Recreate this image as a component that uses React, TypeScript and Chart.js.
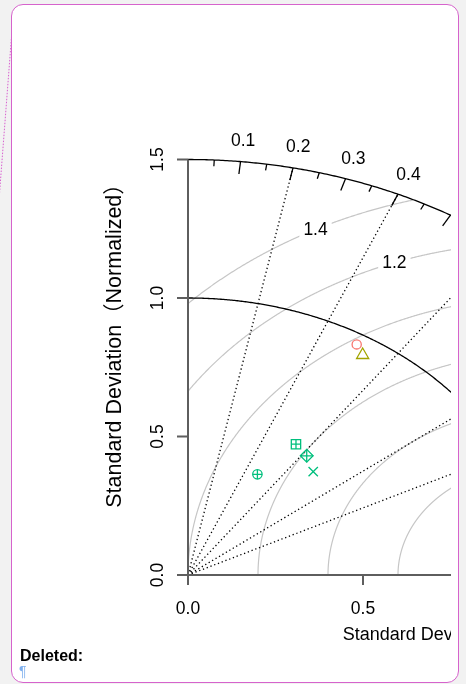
import React, { useEffect, useRef } from "react";
import { Chart, registerables } from "chart.js";

Chart.register(...registerables);

const FONT = '"Liberation Sans", Arial, "Noto Sans CJK SC", sans-serif';

// Models: normalized standard deviation and correlation with the reference
const modelNames = ["Model 1", "Model 2", "Model 3", "Model 4", "Model 5", "Model 6"];
const modelSd = [0.962, 0.938, 0.564, 0.548, 0.517, 0.414];
const modelCorr = [0.501, 0.532, 0.547, 0.619, 0.692, 0.479];
const modelColors = ["#F8766D", "#A3A500", "#00BF7D", "#00BF7D", "#00BF7D", "#00BF7D"];
const modelSymbols = ["circle", "triangle", "squarePlus", "diamondPlus", "cross", "circlePlus"];

// Diagram frame
const maxSd = 1.5;
const refSd = 1.0;
const sdTicks = [0, 0.5, 1.0, 1.5];
const sdTickLabels = ["0.0", "0.5", "1.0", "1.5"];
const corrMajorTicks = [0.1, 0.2, 0.3, 0.4, 0.5, 0.6, 0.7, 0.8, 0.9];
const corrMajorLabels = ["0.1", "0.2", "0.3", "0.4", "0.5", "0.6", "0.7", "0.8", "0.9"];
const corrMinorTicks = [0.05, 0.15, 0.25, 0.35, 0.45, 0.55, 0.65, 0.75, 0.85, 0.95];
const corrLines = [0.2, 0.4, 0.6, 0.8, 0.9];
const rmsRadii = [0.2, 0.4, 0.6, 0.8, 1.0, 1.2, 1.4];
const rmsLabelRadii = [1.2, 1.4];
const rmsLabels = ["1.2", "1.4"];
const rmsLabelAngles = [110, 117]; // degrees around the reference point
const axisTitle = "Standard Deviation（Normalized）";

// Marker parts (Chart.js point styles layered on the same point)
const symbolParts: Record<string, { style: string; radius: number }[]> = {
  circle: [{ style: "circle", radius: 4.6 }],
  triangle: [{ style: "triangle", radius: 7 }],
  squarePlus: [{ style: "rect", radius: 6.6 }, { style: "cross", radius: 4.7 }],
  diamondPlus: [{ style: "rectRot", radius: 6.4 }, { style: "cross", radius: 6.4 }],
  cross: [{ style: "crossRot", radius: 6.6 }],
  circlePlus: [{ style: "circle", radius: 4.7 }, { style: "cross", radius: 4.7 }],
};

const CANVAS_W = 800;
const CANVAS_H = 684;
const X_UNIT = 350; // px per unit of standard deviation, horizontal
const Y_UNIT = 277; // px per unit, vertical
const ORIGIN_X = 188;
const ORIGIN_Y = 575;
const AXIS_MAX = maxSd * 1.1;

const taylorFrame = {
  id: "taylorFrame",
  beforeDatasetsDraw(chart: any) {
    const { ctx } = chart;
    const xs = chart.scales.x;
    const ys = chart.scales.y;
    const px = (v: number) => xs.getPixelForValue(v);
    const py = (v: number) => ys.getPixelForValue(v);
    const polar = (r: number, c: number): [number, number] => [px(r * c), py(r * Math.sqrt(1 - c * c))];

    ctx.save();

    // RMS difference circles around the reference point
    ctx.strokeStyle = "#c6c6c6";
    ctx.lineWidth = 1.2;
    for (const g of rmsRadii) {
      ctx.beginPath();
      let pen = false;
      const n = 1600;
      for (let k = 0; k <= n; k++) {
        const a = (Math.PI * k) / n;
        const x = refSd + g * Math.cos(a);
        const y = g * Math.sin(a);
        const inside = x >= 0 && x * x + y * y <= maxSd * maxSd;
        if (!inside) {
          pen = false;
          continue;
        }
        if (!pen) ctx.moveTo(px(x), py(y));
        else ctx.lineTo(px(x), py(y));
        pen = true;
      }
      ctx.stroke();
    }

    // RMS labels
    ctx.font = `17.5px ${FONT}`;
    ctx.textAlign = "center";
    ctx.textBaseline = "middle";
    rmsLabelRadii.forEach((g, i) => {
      const a = (rmsLabelAngles[i] * Math.PI) / 180;
      const x = px(refSd + g * Math.cos(a));
      const y = py(g * Math.sin(a));
      const w = ctx.measureText(rmsLabels[i]).width;
      ctx.fillStyle = "#ffffff";
      ctx.fillRect(x - w / 2 - 4, y - 9, w + 8, 18);
      ctx.fillStyle = "#000000";
      ctx.fillText(rmsLabels[i], x, y + 1);
    });

    // Correlation rays
    ctx.strokeStyle = "#000000";
    ctx.lineWidth = 1.3;
    ctx.setLineDash([1.3, 2.7]);
    for (const c of corrLines) {
      const [x1, y1] = polar(maxSd, c);
      ctx.beginPath();
      ctx.moveTo(px(0), py(0));
      ctx.lineTo(x1, y1);
      ctx.stroke();
    }
    ctx.setLineDash([]);

    // Outer arc and reference standard deviation arc
    for (const r of [maxSd, refSd]) {
      ctx.beginPath();
      const n = 400;
      for (let k = 0; k <= n; k++) {
        const a = (Math.PI / 2) * (k / n);
        const x = px(r * Math.sin(a));
        const y = py(r * Math.cos(a));
        if (k === 0) ctx.moveTo(x, y);
        else ctx.lineTo(x, y);
      }
      ctx.stroke();
    }

    // Correlation ticks and labels
    for (const c of corrMajorTicks) {
      const [x0, y0] = polar(maxSd, c);
      const [x1, y1] = polar(maxSd * 0.97, c);
      ctx.beginPath();
      ctx.moveTo(x0, y0);
      ctx.lineTo(x1, y1);
      ctx.stroke();
    }
    for (const c of corrMinorTicks) {
      const [x0, y0] = polar(maxSd, c);
      const [x1, y1] = polar(maxSd * 0.985, c);
      ctx.beginPath();
      ctx.moveTo(x0, y0);
      ctx.lineTo(x1, y1);
      ctx.stroke();
    }
    ctx.fillStyle = "#000000";
    ctx.textAlign = "center";
    ctx.textBaseline = "middle";
    corrMajorTicks.forEach((c, i) => {
      const [x, y] = polar(maxSd * 1.05, c);
      ctx.fillText(corrMajorLabels[i], x, y);
    });

    // Axes
    ctx.strokeStyle = "#5e5e5e";
    ctx.lineWidth = 2;
    ctx.beginPath();
    ctx.moveTo(px(0), py(0));
    ctx.lineTo(px(0), py(maxSd));
    ctx.moveTo(px(0), py(0));
    ctx.lineTo(px(maxSd), py(0));
    for (const t of sdTicks) {
      ctx.moveTo(px(0), py(t));
      ctx.lineTo(px(0) - 11, py(t));
      ctx.moveTo(px(t), py(0));
      ctx.lineTo(px(t), py(0) + 10);
    }
    ctx.stroke();

    ctx.fillStyle = "#000000";
    ctx.font = `17.5px ${FONT}`;
    ctx.textAlign = "center";
    ctx.textBaseline = "alphabetic";
    sdTicks.forEach((t, i) => {
      ctx.fillText(sdTickLabels[i], px(t), py(0) + 39);
      ctx.save();
      ctx.translate(px(0) - 25, py(t));
      ctx.rotate(-Math.PI / 2);
      ctx.fillText(sdTickLabels[i], 0, 0);
      ctx.restore();
    });

    // Axis titles
    ctx.font = `18px ${FONT}`;
    ctx.fillText(axisTitle, px(AXIS_MAX / 2) + 6, py(0) + 65);
    ctx.save();
    ctx.font = `21.5px ${FONT}`;
    ctx.translate(px(0) - 67, py(AXIS_MAX / 2) - 6);
    ctx.rotate(-Math.PI / 2);
    ctx.fillText(axisTitle, 0, 0);
    ctx.restore();

    ctx.restore();
  },
};

function buildDatasets() {
  const sets: any[] = [];
  modelSd.forEach((sd, i) => {
    const c = modelCorr[i];
    const point = { x: sd * c, y: sd * Math.sqrt(1 - c * c) };
    for (const part of symbolParts[modelSymbols[i]]) {
      sets.push({
        label: modelNames[i],
        data: [point],
        pointStyle: part.style,
        pointRadius: part.radius,
        pointBorderColor: modelColors[i],
        pointBackgroundColor: "rgba(0,0,0,0)",
        pointBorderWidth: 1.3,
      });
    }
  });
  return sets;
}

export default function App() {
  const canvasRef = useRef<HTMLCanvasElement>(null);

  useEffect(() => {
    const canvas = canvasRef.current;
    if (!canvas) return;
    const chartRight = ORIGIN_X + AXIS_MAX * X_UNIT;
    const chartTop = ORIGIN_Y - AXIS_MAX * Y_UNIT;
    const chart = new Chart(canvas, {
      type: "scatter",
      data: { datasets: buildDatasets() },
      options: {
        animation: false,
        responsive: false,
        maintainAspectRatio: false,
        events: [],
        layout: {
          padding: {
            left: ORIGIN_X,
            right: CANVAS_W - chartRight,
            top: chartTop,
            bottom: CANVAS_H - ORIGIN_Y,
          },
        },
        scales: {
          x: { type: "linear", min: 0, max: AXIS_MAX, display: false },
          y: { type: "linear", min: 0, max: AXIS_MAX, display: false },
        },
        plugins: {
          legend: { display: false },
          tooltip: { enabled: false },
        },
      },
      plugins: [taylorFrame],
    } as any);
    return () => chart.destroy();
  }, []);

  return (
    <div
      style={{
        position: "fixed",
        left: 0,
        top: 0,
        width: 466,
        height: 684,
        background: "#f2f2f2",
        overflow: "hidden",
      }}
    >
      <svg width={466} height={684} style={{ position: "absolute", left: 0, top: 0 }}>
        <line x1={12.5} y1={24} x2={-1} y2={200} stroke="#d860d0" strokeWidth={1} strokeDasharray="1.5 1.5" />
      </svg>
      <div
        style={{
          position: "absolute",
          left: 11,
          top: 4,
          width: 448,
          height: 679,
          boxSizing: "border-box",
          border: "1.5px solid #d663cc",
          borderRadius: 12,
          background: "#ffffff",
        }}
      />
      <div style={{ position: "absolute", left: 0, top: 0, width: 451, height: 684, overflow: "hidden" }}>
        <canvas ref={canvasRef} width={CANVAS_W} height={CANVAS_H} style={{ display: "block" }} />
      </div>
      <div
        style={{
          position: "absolute",
          left: 20,
          top: 648,
          fontFamily: FONT,
          fontWeight: "bold",
          fontSize: 16,
          lineHeight: 1,
          color: "#000",
        }}
      >
        Deleted:
      </div>
      <div
        style={{
          position: "absolute",
          left: 19,
          top: 664,
          fontFamily: FONT,
          fontSize: 14,
          lineHeight: 1,
          color: "#7fb0ee",
        }}
      >
        ¶
      </div>
    </div>
  );
}
